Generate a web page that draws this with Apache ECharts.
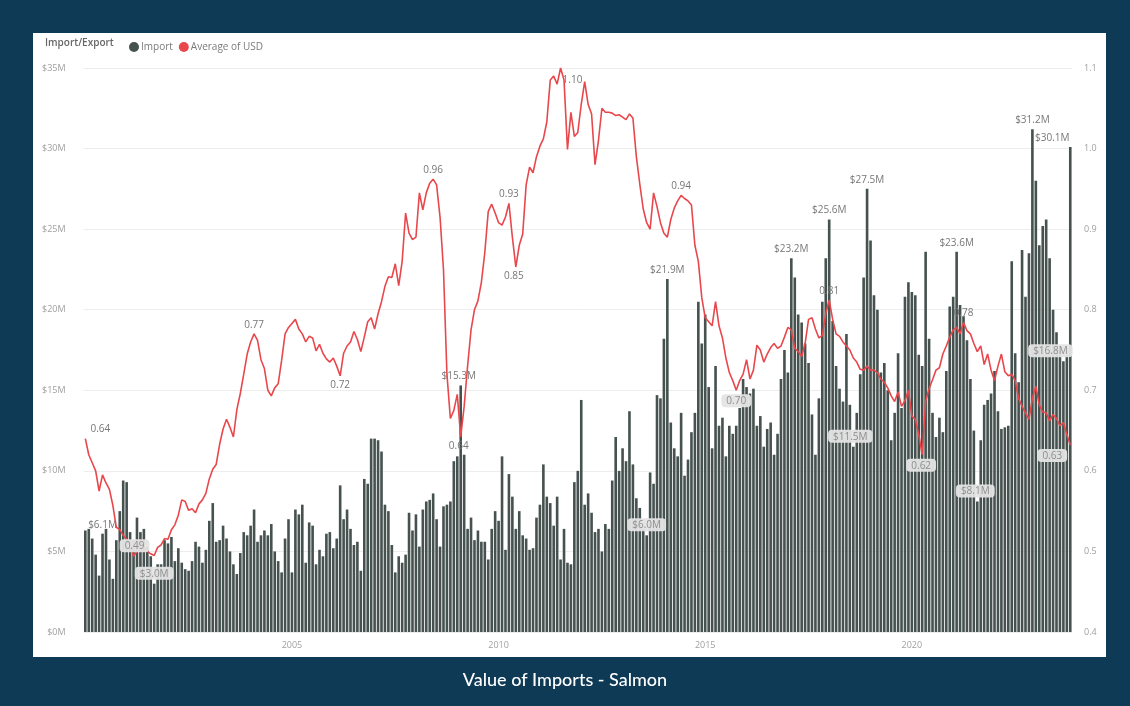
<!DOCTYPE html>
<html>
<head>
<meta charset="utf-8">
<script src="https://cdn.jsdelivr.net/npm/echarts@6/dist/echarts.min.js"></script>
<style>
  html, body { margin: 0; padding: 0; background: #0e3a56; }
  #chart { width: 1130px; height: 706px; }
</style>
</head>
<body>
<div id="chart"></div>
<script>
// Monthly salmon import value ($M), Jan 2000 onwards, one row per year
const importValues = [
  6.3, 6.4, 5.8, 4.8, 3.5, 6.1, 6.4, 4.5, 3.3, 5.7, 7.5, 9.4,          // 2000
  9.3, 6.2, 5.7, 7.1, 6.2, 6.4, 5.3, 4.7, 3.0, 4.2, 4.2, 5.7,          // 2001
  5.5, 5.9, 4.4, 5.2, 4.3, 3.9, 3.8, 4.4, 5.6, 5.3, 4.3, 5.1,          // 2002
  6.9, 8.0, 5.6, 5.7, 6.6, 5.8, 5.0, 4.2, 3.6, 4.9, 6.2, 6.0,          // 2003
  6.6, 7.6, 5.6, 6.0, 6.3, 6.0, 6.7, 5.0, 4.4, 3.7, 5.8, 7.0,          // 2004
  3.7, 7.6, 7.3, 7.9, 4.3, 6.8, 6.6, 4.2, 5.1, 4.7, 6.1, 6.2,          // 2005
  5.2, 5.8, 9.1, 7.0, 7.6, 6.4, 5.4, 5.6, 3.8, 9.5, 9.2, 12.0,         // 2006
  12.0, 11.9, 11.2, 7.9, 7.5, 5.4, 3.7, 4.7, 4.3, 4.8, 7.4, 6.3,       // 2007
  7.3, 5.3, 7.6, 8.1, 8.2, 8.6, 7.0, 5.3, 7.8, 7.9, 8.1, 10.6,         // 2008
  10.9, 15.3, 11.0, 6.4, 7.1, 5.7, 6.3, 5.6, 5.6, 4.5, 6.4, 7.5,       // 2009
  6.9, 10.9, 5.1, 9.8, 8.4, 6.4, 7.5, 6.0, 5.8, 5.1, 5.2, 7.1,         // 2010
  7.9, 10.4, 8.4, 8.0, 6.6, 8.4, 4.5, 6.4, 4.3, 4.2, 9.3, 10.0,        // 2011
  14.4, 7.9, 8.6, 7.4, 6.2, 6.4, 5.0, 6.7, 6.4, 9.4, 12.1, 10.0,       // 2012
  11.4, 10.6, 13.7, 10.4, 8.3, 7.7, 6.4, 6.0, 9.9, 9.2, 14.7, 14.5,    // 2013
  18.2, 21.9, 13.0, 11.4, 10.9, 13.6, 9.7, 10.7, 12.4, 13.6, 20.5, 17.9, // 2014
  19.7, 15.2, 11.4, 16.5, 12.8, 13.3, 10.9, 12.8, 12.3, 12.8, 13.9, 15.7, // 2015
  15.2, 14.8, 15.1, 12.8, 13.4, 11.5, 12.6, 13.0, 11.0, 12.3, 15.7, 17.5, // 2016
  16.1, 23.2, 22.0, 19.7, 19.2, 17.9, 16.7, 13.5, 11.0, 14.5, 20.5, 23.2, // 2017
  25.6, 19.3, 16.5, 15.1, 14.3, 18.5, 14.1, 11.5, 13.6, 16.0, 22.0, 27.5, // 2018
  24.3, 20.9, 20.0, 16.1, 16.7, 15.0, 11.9, 13.6, 17.3, 13.9, 20.8, 21.7, // 2019
  21.1, 20.9, 17.2, 16.5, 23.6, 18.2, 13.6, 12.1, 13.3, 12.4, 16.2, 20.2, // 2020
  20.8, 23.6, 20.3, 19.6, 18.1, 15.7, 12.5, 8.1, 11.9, 14.1, 14.4, 14.8,  // 2021
  16.2, 13.7, 12.6, 12.7, 12.8, 23.0, 17.3, 15.5, 23.7, 20.8, 23.5, 31.2, // 2022
  28.0, 24.0, 25.2, 25.6, 23.2, 20.0, 18.6, 17.5, 16.8, 17.2, 30.1        // 2023
];

// Monthly average exchange rate (USD), same months
const usdValues = [
  0.64, 0.62, 0.61, 0.60, 0.575, 0.595, 0.585, 0.577, 0.557, 0.53, 0.527, 0.52,     // 2000
  0.515, 0.51, 0.494, 0.50, 0.515, 0.505, 0.50, 0.497, 0.495, 0.505, 0.508, 0.516,   // 2001
  0.515, 0.527, 0.533, 0.545, 0.564, 0.562, 0.551, 0.553, 0.548, 0.559, 0.564, 0.572, // 2002
  0.59, 0.602, 0.608, 0.633, 0.652, 0.664, 0.654, 0.642, 0.676, 0.696, 0.72, 0.745,  // 2003
  0.76, 0.77, 0.762, 0.738, 0.727, 0.70, 0.693, 0.703, 0.708, 0.737, 0.77, 0.778,    // 2004
  0.783, 0.788, 0.776, 0.77, 0.76, 0.767, 0.765, 0.749, 0.757, 0.746, 0.739, 0.735, // 2005
  0.74, 0.73, 0.718, 0.746, 0.755, 0.76, 0.773, 0.763, 0.748, 0.766, 0.785, 0.79,   // 2006
  0.776, 0.795, 0.81, 0.829, 0.841, 0.84, 0.857, 0.83, 0.86, 0.92, 0.895, 0.887,    // 2007
  0.89, 0.945, 0.924, 0.945, 0.957, 0.962, 0.955, 0.915, 0.85, 0.72, 0.665, 0.675,  // 2008
  0.695, 0.642, 0.68, 0.73, 0.775, 0.80, 0.811, 0.834, 0.871, 0.922, 0.931, 0.92,   // 2009
  0.908, 0.905, 0.915, 0.932, 0.89, 0.853, 0.88, 0.894, 0.955, 0.977, 0.97, 0.99,   // 2010
  1.003, 1.012, 1.033, 1.085, 1.09, 1.08, 1.10, 1.085, 0.999, 1.045, 1.015, 1.02,   // 2011
  1.055, 1.083, 1.055, 1.043, 0.98, 1.01, 1.05, 1.045, 1.045, 1.044, 1.041, 1.042,  // 2012
  1.039, 1.036, 1.043, 1.038, 0.99, 0.956, 0.925, 0.908, 0.90, 0.945, 0.928, 0.908, // 2013
  0.895, 0.89, 0.912, 0.926, 0.935, 0.942, 0.938, 0.935, 0.93, 0.88, 0.86, 0.815,   // 2014
  0.79, 0.785, 0.78, 0.81, 0.78, 0.765, 0.74, 0.722, 0.712, 0.70, 0.712, 0.72,      // 2015
  0.738, 0.714, 0.725, 0.756, 0.75, 0.735, 0.745, 0.753, 0.758, 0.752, 0.755, 0.766, // 2016
  0.778, 0.775, 0.752, 0.748, 0.742, 0.758, 0.788, 0.79, 0.776, 0.765, 0.768, 0.795, // 2017
  0.812, 0.788, 0.77, 0.767, 0.76, 0.755, 0.75, 0.74, 0.735, 0.726, 0.725, 0.73,    // 2018
  0.725, 0.725, 0.722, 0.714, 0.71, 0.703, 0.693, 0.686, 0.698, 0.68, 0.687, 0.70,  // 2019
  0.668, 0.664, 0.645, 0.62, 0.686, 0.702, 0.713, 0.725, 0.728, 0.745, 0.755, 0.766, // 2020
  0.775, 0.778, 0.77, 0.784, 0.774, 0.77, 0.758, 0.748, 0.755, 0.732, 0.745, 0.725, // 2021
  0.712, 0.73, 0.745, 0.723, 0.718, 0.72, 0.712, 0.69, 0.68, 0.672, 0.664, 0.69,    // 2022
  0.705, 0.682, 0.673, 0.672, 0.662, 0.67, 0.665, 0.656, 0.66, 0.645, 0.632         // 2023
];

const leftTicks = ['$0M', '$5M', '$10M', '$15M', '$20M', '$25M', '$30M', '$35M'];
const yearTicks = ['2005', '2010', '2015', '2020'];

// Month categories (YYYY-MM) for every value
const months = importValues.map((_, i) => {
  const y = 2000 + Math.floor(i / 12);
  const m = (i % 12) + 1;
  return y + '-' + (m < 10 ? '0' + m : m);
});

// Which bars / points carry a value label: [index, boxed, position, xOffset, yOffset]
const barLabelAt = [
  [5, false, 'top', 0, 0], [20, true, 'top', 0, 0], [109, false, 'top', -2, 0], [163, true, 'top', 0, 0],
  [169, false, 'top', 0, 0], [205, false, 'top', 0, 0], [216, false, 'top', 0, 0], [223, true, 'top', -3, 0],
  [227, false, 'top', 0, 0], [253, false, 'top', 0, 0], [259, true, 'top', -2, 0], [275, false, 'top', 0, 0],
  [284, true, 'top', -13, 0], [286, false, 'top', -18, 0]
];
const lineLabelAt = [
  [0, false, 'top', 15, 0], [14, true, 'top', 1, 0], [49, false, 'top', 0, 0], [74, false, 'bottom', 0, 0],
  [101, false, 'top', 0, 0], [109, false, 'bottom', -2, 0], [123, false, 'top', 0, 0], [125, false, 'bottom', -2, 0],
  [138, false, 'right', -2, 12], [173, false, 'top', 0, 0], [189, true, 'bottom', 0, 0], [216, false, 'top', 0, 0],
  [243, true, 'bottom', -1, 0], [255, false, 'top', 0, 0], [286, true, 'bottom', -18, 0]
];

const FONT = '"Open Sans", "Noto Sans", sans-serif';
const plainLabel = { color: '#777777', fontSize: 10, fontFamily: FONT, distance: 4 };
const boxLabel = {
  color: '#8e8e8e', fontSize: 10, fontFamily: FONT, distance: 4,
  backgroundColor: 'rgba(228,228,228,0.95)', borderRadius: 4, padding: [2, 5, 1, 5]
};

function withLabels(values, marks, fmt) {
  const data = values.map(v => v);
  marks.forEach(([i, boxed, pos, dx, dy]) => {
    data[i] = {
      value: values[i],
      label: Object.assign({ show: true, position: pos, offset: [dx, dy], formatter: fmt },
                           boxed ? boxLabel : plainLabel)
    };
  });
  return data;
}

const chart = echarts.init(document.getElementById('chart'), null, { renderer: 'canvas' });

chart.setOption({
  backgroundColor: '#0e3a56',
  animation: false,
  textStyle: { fontFamily: FONT },
  graphic: [
    { type: 'rect', left: 33, top: 33, shape: { width: 1073, height: 624 }, style: { fill: '#ffffff' }, z: -10 },
    { type: 'text', left: 45, top: 38, style: { text: 'Import/Export', fill: '#666666', font: '600 10px ' + FONT } },
    { type: 'text', left: 'center', top: 671, style: { text: 'Value of Imports - Salmon', fill: '#ffffff', font: '500 18px Lato, "Open Sans", sans-serif' } }
  ],
  legend: {
    left: 124, top: 37, icon: 'circle', itemWidth: 10, itemHeight: 10, itemGap: 6,
    textStyle: { color: '#7a7a7a', fontSize: 10, fontFamily: FONT, padding: [0, 0, 0, -3] },
    data: ['Import', 'Average of USD']
  },
  grid: { left: 83.6, right: 58, top: 68, bottom: 74 },
  xAxis: {
    type: 'category',
    data: months,
    boundaryGap: true,
    axisLine: { show: false },
    axisTick: { show: false },
    axisLabel: {
      interval: (idx, val) => yearTicks.includes(val.slice(0, 4)) && val.endsWith('-01'),
      formatter: v => v.slice(0, 4),
      color: '#a0a0a0', fontSize: 9, margin: 9
    },
    splitLine: { show: false }
  },
  yAxis: [
    {
      type: 'value', min: 0, max: 35, interval: 5,
      axisLabel: { formatter: v => leftTicks[Math.round(v / 5)], color: '#a0a0a0', fontSize: 9, margin: 18 },
      axisLine: { show: false }, axisTick: { show: false },
      splitLine: { lineStyle: { color: '#ededed', width: 1 } }
    },
    {
      type: 'value', min: 0.4, max: 1.1, interval: 0.1,
      axisLabel: { formatter: v => v.toFixed(1), color: '#a0a0a0', fontSize: 9, margin: 12 },
      axisLine: { show: false }, axisTick: { show: false },
      splitLine: { show: false }
    }
  ],
  series: [
    {
      name: 'Import',
      type: 'bar',
      yAxisIndex: 0,
      barCategoryGap: '24%',
      itemStyle: { color: '#46524f' },
      data: withLabels(importValues, barLabelAt, p => '$' + p.value.toFixed(1) + 'M'),
      z: 2
    },
    {
      name: 'Average of USD',
      type: 'line',
      yAxisIndex: 1,
      symbol: 'circle',
      symbolSize: 0,
      showSymbol: true,
      showAllSymbol: true,
      itemStyle: { color: '#e8474c' },
      lineStyle: { color: '#e8474c', width: 1.6 },
      data: withLabels(usdValues, lineLabelAt, p => p.value.toFixed(2)),
      z: 3
    }
  ]
});
</script>
</body>
</html>
